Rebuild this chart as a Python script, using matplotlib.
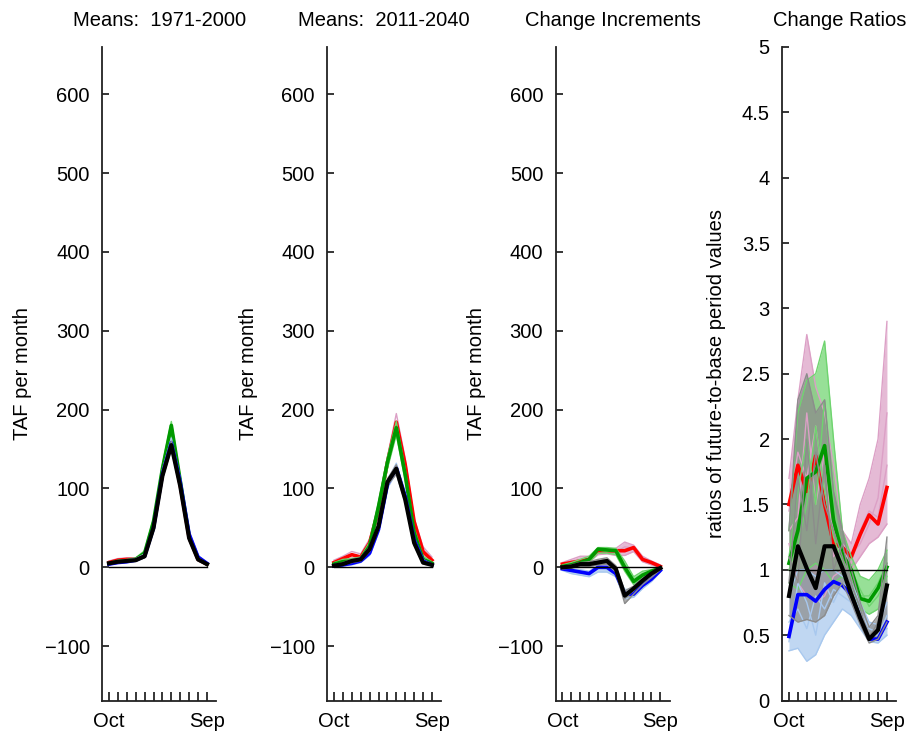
import matplotlib
matplotlib.use("Agg")
import matplotlib.pyplot as plt

plt.rcParams['font.family'] = ['Liberation Sans', 'DejaVu Sans']

# months along the x axis (water year)
months = [1, 2, 3, 4, 5, 6, 7, 8, 9, 10, 11, 12]
month_labels = ['Oct', '', '', '', '', '', '', '', '', '', '', 'Sep']

titles = ['Means:  1971-2000', 'Means:  2011-2040', 'Change Increments', 'Change Ratios']
ylabels = ['TAF per month', 'TAF per month', 'TAF per month',
           'ratios of future-to-base period values']

# thick lines (ensemble means), order: red, green, blue, black
base_red = [6, 9, 10, 10, 16, 52, 118, 160, 104, 38, 10, 4]
base_green = [5, 7, 8, 10, 18, 58, 125, 180, 110, 40, 12, 4]
base_blue = [4, 6, 7, 9, 14, 50, 118, 158, 108, 42, 13, 5]
base_black = [5, 7, 8, 9, 14, 50, 116, 155, 103, 37, 10, 4]

fut_red = [6, 11, 16, 13, 31, 73, 133, 184, 130, 58, 20, 9]
fut_green = [4, 7, 8, 10, 27, 77, 133, 177, 117, 44, 10, 5]
fut_blue = [2, 3, 5, 8, 18, 48, 105, 126, 90, 35, 8, 3]
fut_black = [2, 4, 8, 10, 23, 52, 108, 125, 86, 31, 6, 3]

inc_red = [4, 6, 8, 10, 21, 21, 21, 21, 25, 10, 6, 1]
inc_green = [1, 3, 6, 10, 23, 22, 21, 0, -18, -10, -5, -1]
inc_blue = [-2, -4, -6, -8, 0, 0, -8, -34, -34, -23, -15, -4]
inc_black = [0, 1, 4, 4, 6, 8, -2, -36, -27, -17, -8, -1]

rat_red = [1.5, 1.8, 1.6, 1.87, 1.5, 1.2, 1.17, 1.1, 1.27, 1.42, 1.35, 1.63]
rat_green = [1.05, 1.3, 1.7, 1.75, 1.95, 1.38, 1.12, 1.0, 0.78, 0.76, 0.86, 1.02]
rat_blue = [0.49, 0.81, 0.81, 0.76, 0.85, 0.91, 0.88, 0.81, 0.63, 0.47, 0.47, 0.6]
rat_black = [0.8, 1.18, 1.01, 0.86, 1.18, 1.18, 1.01, 0.81, 0.63, 0.47, 0.54, 0.88]

# thin lines (ensemble members / spread)
base_pink = [[8, 11, 12, 12, 18, 56, 122, 168, 110, 42, 12, 5],
             [4, 7, 8, 8, 13, 48, 112, 152, 98, 34, 8, 3]]
base_lgreen = [[6, 9, 10, 12, 21, 62, 130, 185, 115, 44, 14, 5],
               [4, 6, 7, 9, 15, 52, 118, 170, 104, 37, 10, 3]]
base_lblue = [[5, 8, 9, 11, 17, 54, 124, 164, 113, 46, 15, 6],
              [3, 5, 6, 8, 12, 46, 112, 150, 102, 38, 11, 4]]
base_gray = [[6, 8, 9, 11, 16, 53, 120, 160, 107, 40, 12, 5],
             [4, 6, 7, 8, 12, 46, 112, 150, 99, 34, 8, 3]]

fut_pink = [[9, 14, 20, 17, 36, 80, 140, 195, 138, 62, 26, 13],
            [4, 8, 12, 10, 27, 66, 126, 175, 122, 48, 17, 8]]
fut_lgreen = [[6, 10, 11, 13, 32, 83, 140, 185, 124, 50, 14, 7],
              [3, 5, 6, 8, 23, 70, 125, 168, 110, 38, 8, 3]]
fut_lblue = [[3, 5, 7, 10, 21, 52, 110, 132, 95, 38, 10, 4],
             [1, 2, 3, 6, 15, 44, 100, 120, 85, 32, 6, 2]]
fut_gray = [[3, 6, 10, 12, 26, 56, 112, 130, 90, 34, 8, 4],
            [1, 3, 6, 8, 20, 48, 104, 118, 82, 28, 4, 2]]

inc_pink = [[6, 10, 14, 14, 20, 22, 24, 32, 28, 14, 8, 3],
            [2, 3, 5, 7, 16, 17, 15, 15, 20, 7, 3, 0],
            [4, 8, 9, 12, 18, 20, 19, 26, 24, 11, 5, 2]]
inc_lgreen = [[3, 6, 10, 14, 25, 25, 24, 8, -12, -5, -3, 0],
              [-1, 0, 3, 6, 18, 18, 16, -5, -22, -13, -7, -2],
              [1, 4, 7, 9, 22, 20, 22, 3, -16, -9, -4, -1]]
inc_lblue = [[0, -2, -3, -5, 2, 0, -5, -28, -28, -18, -11, -2],
             [-4, -8, -10, -12, -6, -6, -12, -40, -38, -27, -18, -6],
             [-2, -5, -8, -7, -2, -3, -9, -33, -32, -22, -14, -4]]
inc_gray = [[1, 3, 6, 7, 10, 12, 2, -30, -24, -14, -7, 0],
            [-2, -1, 1, 1, 3, 4, -6, -46, -34, -22, -13, -3],
            [0, 2, 3, 5, 7, 9, -3, -40, -29, -18, -9, -1]]

rat_pink = [[1.7, 2.3, 2.8, 2.4, 2.2, 1.8, 1.3, 1.2, 1.5, 1.7, 2.0, 2.9],
            [1.2, 0.9, 0.8, 0.75, 0.8, 0.95, 1.0, 1.0, 1.1, 1.2, 1.25, 1.35],
            [1.45, 1.9, 1.7, 2.1, 1.6, 1.3, 1.15, 1.05, 1.3, 1.45, 1.4, 1.8],
            [1.3, 1.4, 2.2, 1.5, 1.9, 1.1, 1.2, 1.12, 1.2, 1.35, 1.55, 2.2]]
rat_lgreen = [[1.3, 2.2, 2.45, 2.5, 2.75, 2.0, 1.3, 1.1, 0.95, 0.92, 1.0, 1.15],
              [0.9, 0.85, 1.0, 1.05, 1.0, 0.9, 0.95, 0.85, 0.7, 0.66, 0.7, 0.85],
              [1.1, 1.6, 2.0, 1.5, 2.3, 1.5, 1.15, 0.95, 0.8, 0.8, 0.9, 1.05],
              [1.0, 1.2, 1.5, 2.1, 1.6, 1.25, 1.05, 1.0, 0.85, 0.72, 0.8, 0.95]]
rat_lblue = [[0.8, 1.0, 1.0, 0.95, 1.0, 1.0, 0.95, 0.9, 0.75, 0.6, 0.58, 0.75],
             [0.38, 0.4, 0.3, 0.35, 0.5, 0.6, 0.7, 0.65, 0.55, 0.45, 0.44, 0.5],
             [0.6, 0.7, 0.55, 0.8, 0.7, 0.85, 0.8, 0.75, 0.6, 0.5, 0.5, 0.65],
             [0.45, 0.9, 0.75, 0.5, 0.9, 0.75, 0.9, 0.85, 0.68, 0.55, 0.52, 0.55]]
rat_gray = [[1.3, 2.3, 2.5, 2.2, 2.3, 1.6, 1.3, 1.0, 0.75, 0.56, 0.65, 1.25],
            [0.65, 0.6, 0.62, 0.6, 0.65, 0.8, 0.9, 0.75, 0.58, 0.44, 0.47, 0.6],
            [0.9, 1.7, 1.3, 1.9, 1.5, 1.3, 1.1, 0.85, 0.65, 0.5, 0.55, 0.9],
            [1.1, 0.9, 2.0, 1.2, 1.8, 1.0, 1.2, 0.9, 0.7, 0.48, 0.6, 1.05]]

thick_colors = ['#ff0000', '#009900', '#0000ff', '#000000']
thin_colors = ['#dca0c6', '#6fd46f', '#a8c8ee', '#8c8c8c']

panels = [
    ([base_red, base_green, base_blue, base_black], [base_pink, base_lgreen, base_lblue, base_gray]),
    ([fut_red, fut_green, fut_blue, fut_black], [fut_pink, fut_lgreen, fut_lblue, fut_gray]),
    ([inc_red, inc_green, inc_blue, inc_black], [inc_pink, inc_lgreen, inc_lblue, inc_gray]),
    ([rat_red, rat_green, rat_blue, rat_black], [rat_pink, rat_lgreen, rat_lblue, rat_gray]),
]

W, H = 910, 734
fig = plt.figure(figsize=(W / 100, H / 100), dpi=100)

lefts = [102.3, 327.3, 555.7, 782.3]
ax_w, ax_top, ax_bot = 114, 47, 700.5
label_x = [22.5, 249, 477, 716]
fs = 14.5

for i, (thick, thin) in enumerate(panels):
    ax = fig.add_axes([lefts[i] / W, (H - ax_bot) / H, ax_w / W, (ax_bot - ax_top) / H])

    for mean, members, c_thick, c_thin in zip(thick, thin, thick_colors, thin_colors):
        if len(members) > 2:
            ax.fill_between(months, members[1], members[0], color=c_thin, alpha=0.72, lw=0)
        for m in members:
            ax.plot(months, m, color=c_thin, lw=1.0)
        lw = 3.0 if c_thick == '#000000' else 2.6
        ax.plot(months, mean, color=c_thick, lw=lw)

    ref = 1 if i == 3 else 0
    ax.plot([1, 12], [ref, ref], color='black', lw=1.0)

    ax.set_xlim(0.25, 13.05)
    ax.set_xticks(months)
    ax.set_xticklabels(month_labels)
    if i == 3:
        ax.set_ylim(0, 5)
        yt = [0, 0.5, 1, 1.5, 2, 2.5, 3, 3.5, 4, 4.5, 5]
        ax.set_yticks(yt)
        ax.set_yticklabels(['0', '0.5', '1', '1.5', '2', '2.5', '3', '3.5', '4', '4.5', '5'])
    else:
        ax.set_ylim(-169, 660)
        ax.set_yticks([-100, 0, 100, 200, 300, 400, 500, 600])

    for s in ['top', 'right']:
        ax.spines[s].set_visible(False)
    for s in ['left', 'bottom']:
        ax.spines[s].set_linewidth(1.3)
        ax.spines[s].set_color('#222222')
    ax.tick_params(axis='y', direction='in', length=4.8, width=1.1, pad=9, labelsize=fs)
    ax.tick_params(axis='x', direction='in', length=6.5, width=1.1, pad=8, labelsize=fs)

    ax.set_title(titles[i], fontsize=fs, pad=15)
    fig.text(label_x[i] / W, 1 - (ax_top + ax_bot) / 2 / H, ylabels[i], rotation=90,
             ha='center', va='center', fontsize=fs)

fig.savefig('out.png', dpi=100)
